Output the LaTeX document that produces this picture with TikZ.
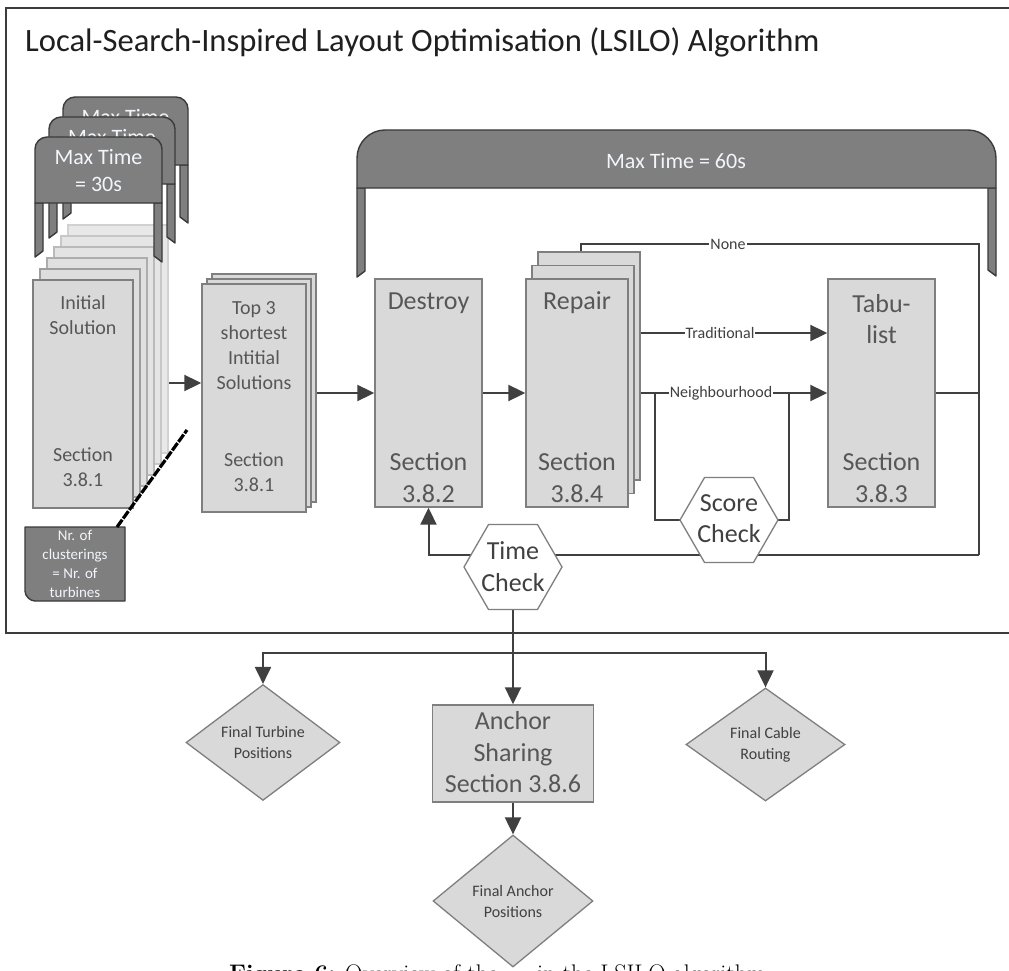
\documentclass[tikz,border=0pt]{standalone}
\usepackage{fontspec}
\newfontfamily\calib{Carlito}
\usetikzlibrary{arrows.meta,shapes.geometric,calc}
\definecolor{boxfill}{HTML}{D9D9D9}
\definecolor{boxline}{HTML}{7F7F7F}
\definecolor{tabfill}{HTML}{7F7F7F}
\definecolor{tabline}{HTML}{3A3A3A}
\definecolor{wire}{HTML}{404040}
\definecolor{ink}{HTML}{575757}
\definecolor{tabink}{HTML}{F2F5FA}
\definecolor{framecol}{HTML}{3C3C3C}
\pgfdeclarelayer{bg}
\pgfsetlayers{bg,main}

% bracket-shaped time-limit tab: x0, x1, top, bar bottom, left leg end, right leg end, corner radius
\newcommand\tabbar[7]{%
  \filldraw[tabshape] (#1,#5) -- (#1+8,#5-6) -- (#1+8,#4) -- (#1,#4) -- cycle;
  \filldraw[tabshape] (#2,#6) -- (#2-8,#6-6) -- (#2-8,#4) -- (#2,#4) -- cycle;
  \filldraw[tabshape] (#1,#4) -- (#1,#3+#7)
     .. controls (#1,#3+0.45*#7) and (#1+0.45*#7,#3) .. (#1+#7,#3)
     -- (#2-#7,#3)
     .. controls (#2-0.45*#7,#3) and (#2,#3+0.45*#7) .. (#2,#3+#7)
     -- (#2,#4) -- cycle;}

\begin{document}
\begin{tikzpicture}[x=1pt,y=-1pt,
  tabshape/.style={fill=tabfill,draw=tabline,line width=1.4pt,line join=round},
  box/.style={draw=boxline,fill=boxfill,line width=1.4pt,inner sep=0pt},
  txt/.style={inner sep=0pt,align=center,text=ink},
  tabtxt/.style={inner sep=0pt,align=center,text=tabink,font=\calib\fontsize{22}{27}\selectfont},
  big/.style={font=\calib\fontsize{26}{31.5}\selectfont},
  mid/.style={font=\calib\fontsize{20}{25}\selectfont},
  wire/.style={draw=wire,line width=2pt},
  arr/.style={wire,-{Triangle[length=17pt,width=16pt]}},
  elabel/.style={fill=white,inner sep=1pt,text=wire,font=\calib\fontsize{16}{18}\selectfont},
  hexa/.style={regular polygon,regular polygon sides=6,minimum size=98pt,inner sep=0pt,
               draw=boxline,fill=white,line width=1.3pt},
  dia/.style={diamond,draw=boxline,fill=boxfill,line width=1.3pt,inner sep=0pt,align=center,
              text=wire,font=\calib\fontsize{16}{21}\selectfont}]

\useasboundingbox (0,0) rectangle (1009,971);
\clip (0,0) rectangle (1009,971);
\begin{pgfonlayer}{bg}
  \fill[white] (0,0) rectangle (1009,971);
  \draw[framecol,line width=1.3pt] (6,8) rectangle (1040,633);
\end{pgfonlayer}

% title
\node[anchor=base west,inner sep=0pt,text=black!88,font=\calib\fontsize{32.6}{38}\selectfont]
  (title) at (25,52) {Local-Search-Inspired Layout Optimisation (LSILO) Algorithm};

% caption below the diagram (mostly beyond the lower edge)
\node[anchor=base west,inner sep=0pt,font=\fontsize{24}{28}\selectfont] (capA) at (229,981)
  {\textbf{Figure 6:} Overview of the};
\node[anchor=base west,inner sep=0pt,font=\fontsize{24}{28}\selectfont] (capB) at (537,981)
  {in the LSILO algorithm};

% stack of initial solutions (one per clustering)
\node[box,draw=black!18,fill=black!9,minimum width=100pt,minimum height=228pt] (init5) at (118,339) {};
\node[box,draw=black!22,fill=black!10,minimum width=100pt,minimum height=228pt] (init4) at (111,350) {};
\node[box,draw=black!27,fill=black!11,minimum width=100pt,minimum height=228pt] (init3) at (104,361) {};
\node[box,draw=black!32,fill=black!12,minimum width=100pt,minimum height=228pt] (init2) at (97,372) {};
\node[box,draw=black!38,fill=black!13,minimum width=100pt,minimum height=228pt] (init1) at (90,383) {};
\node[box,minimum width=100pt,minimum height=228pt] (init0) at (83,394) {};
\node[txt,mid] (initT) at (83,315.5) {Initial\\Solution};
\node[txt,mid] (initS) at (83,467.5) {Section\\3.8.1};

% time-limit tabs of the initial solutions
\tabbar{63}{188}{97}{165}{219}{223}{12}
\node[tabtxt] (tabC) at (125.5,130.5) {Max Time\\= 30s};
\tabbar{49}{175}{117}{184}{238}{243}{12}
\node[tabtxt] (tabB) at (112,150.5) {Max Time\\= 30s};
\tabbar{35}{162}{137}{203}{257}{262}{12}
\node[tabtxt] (tabA) at (98.5,170.5) {Max Time\\= 30s};

% number of clusterings note
\filldraw[tabshape] (25,527) -- (25,591) .. controls (25,596.5) and (30.5,601) .. (35,601)
  -- (125,601) -- (125,527) -- cycle;
\node[tabtxt,font=\calib\fontsize{15}{19}\selectfont] (nr) at (75,564)
  {Nr. of\\clusterings\\= Nr. of\\turbines};
\coordinate (nrtop) at (117,527);
\coordinate (nrend) at (187,430);
\draw[black,line width=3.2pt,dash pattern=on 9pt off 1.5pt] (nrtop) -- (nrend);

% top 3 initial solutions
\node[box,minimum width=104pt,minimum height=228pt] (top3c) at (264,388) {};
\node[box,minimum width=104pt,minimum height=228pt] (top3b) at (259,393) {};
\node[box,minimum width=104pt,minimum height=228pt] (top3) at (254,398) {};
\node[txt,mid] (top3T) at (254,345.5) {Top 3\\shortest\\Intitial\\Solutions};
\node[txt,mid] (top3S) at (254,472.5) {Section\\3.8.1};

% overall time-limit tab
\tabbar{357}{996}{130}{188}{277}{276}{28}
\node[tabtxt] (tabBig) at (676,161) {Max Time = 60s};

% destroy / repair / tabu-list
\node[box,minimum width=107pt,minimum height=228pt] (destroy) at (428.5,393) {};
\node[txt,big] (destroyT) at (428.5,303) {Destroy};
\node[txt,big] (destroyS) at (428.5,477.5) {Section\\3.8.2};

\node[box,minimum width=102pt,minimum height=228pt] (repairc) at (589,366) {};
\node[box,minimum width=102pt,minimum height=228pt] (repairb) at (583,379.5) {};
\node[box,minimum width=102pt,minimum height=228pt] (repair) at (577,393) {};
\node[txt,big] (repairT) at (577,303) {Repair};
\node[txt,big] (repairS) at (577,477.5) {Section\\3.8.4};

\node[box,minimum width=107pt,minimum height=228pt] (tabu) at (881.5,393) {};
\node[txt,big] (tabuT) at (881.5,319) {Tabu-\\list};
\node[txt,big] (tabuS) at (881.5,477.5) {Section\\3.8.3};

% checks
\node[hexa] (score) at (729,520) {};
\node[txt,big,text=wire] (scoreT) at (729,518.5) {Score\\Check};
\node[hexa] (time) at (513,567) {};
\node[txt,big,text=wire] (timeT) at (513,566.5) {Time\\Check};

% results
\node[box,minimum width=161pt,minimum height=97pt] (anchor) at (513,753.5) {};
\node[txt,big] (anchorT) at (513,752.5) {Anchor\\Sharing\\Section 3.8.6};
\node[dia,minimum width=154pt,minimum height=111pt] (fturb) at (263,742.5) {Final Turbine\\Positions};
\node[dia,minimum width=159pt,minimum height=113pt] (fcable) at (765.5,744.5) {Final Cable\\Routing};
\node[dia,minimum width=160pt,minimum height=132pt] (fanchor) at (513,901) {Final Anchor\\Positions};

% connectors
\coordinate (initOut) at (init1.east |- 0,383);
\coordinate (noneR) at (979,244);
\coordinate (loopR) at (979,555);
\coordinate (nbL) at (655,393);
\coordinate (nbR) at (789,393);
\coordinate (split) at (513,653);
\begin{pgfonlayer}{bg}
  \draw[arr] (initOut) -- (top3.west |- initOut);
  \draw[arr] (top3c.east |- destroy.west) -- (destroy.west);
  \draw[arr] (destroy.east) -- (repair.west);
  \draw[arr] (repairc.east |- 0,333) -- (tabu.west |- 0,333);
  \draw[arr] (repairc.east |- tabu.west) -- (tabu.west);
  \draw[wire] (nbL) |- (score.center) -| (nbR);
  \draw[wire] ($(repairc.north west)+(44,0)$) |- (noneR) -- (loopR);
  \draw[wire] (tabu.east) -- (tabu.east -| loopR);
  \draw[arr] (loopR) -- (destroy.south |- loopR) -- (destroy.south);
  \draw[arr] (time.south) -- (anchor.north);
  \draw[arr] (split) -| (fturb.north);
  \draw[arr] (split) -| (fcable.north);
  \draw[arr] (anchor.south) -- (fanchor.north);
\end{pgfonlayer}
\node[elabel] (lNone) at (728,244) {None};
\node[elabel] (lTrad) at (720,333) {Traditional};
\node[elabel] (lNeigh) at (721,393) {Neighbourhood};
\end{tikzpicture}
\end{document}
